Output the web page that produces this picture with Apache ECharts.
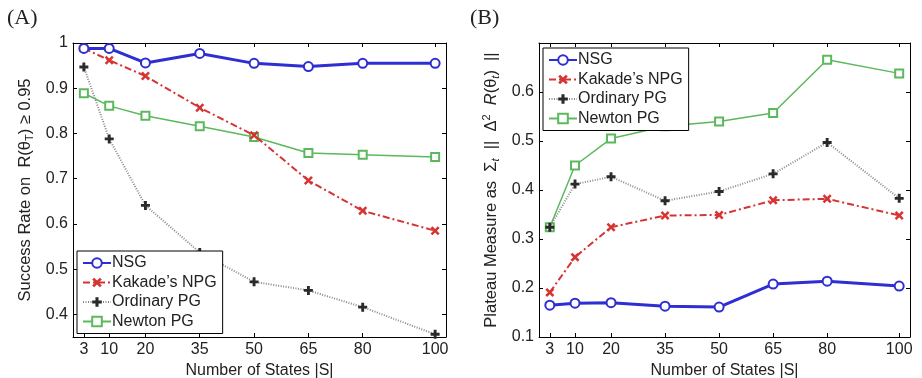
<!DOCTYPE html>
<html>
<head>
<meta charset="utf-8">
<script src="https://cdn.jsdelivr.net/npm/echarts@6/dist/echarts.min.js"></script>
<style>
  html, body { margin: 0; padding: 0; background: #fff; }
  #chart { width: 922px; height: 378px; }
</style>
</head>
<body>
<div id="chart"></div>
<script>
// number of states |S|
var states = [3, 10, 20, 35, 50, 65, 80, 100];

// (A) success rate
var successNSG = [0.988, 0.988, 0.956, 0.977, 0.955, 0.948, 0.955, 0.955];
var successKakade = [0.988, 0.962, 0.927, 0.857, 0.796, 0.696, 0.629, 0.585];
var successOrdinary = [0.947, 0.788, 0.641, 0.537, 0.472, 0.453, 0.416, 0.356];
var successNewton = [0.889, 0.861, 0.839, 0.816, 0.792, 0.757, 0.753, 0.748];

// (B) plateau measure
var plateauNSG = [0.165, 0.169, 0.170, 0.163, 0.161, 0.208, 0.214, 0.204];
var plateauKakade = [0.191, 0.263, 0.324, 0.348, 0.349, 0.379, 0.382, 0.348];
var plateauOrdinary = [0.324, 0.412, 0.427, 0.378, 0.397, 0.433, 0.497, 0.383];
var plateauNewton = [0.324, 0.450, 0.505, 0.530, 0.540, 0.557, 0.666, 0.638];

var ticksA = [0.4, 0.5, 0.6, 0.7, 0.8, 0.9, 1];
var ticksB = [0.1, 0.2, 0.3, 0.4, 0.5, 0.6];
var seriesNames = ["NSG", "Kakade\u2019s NPG", "Ordinary PG", "Newton PG"];

var FONT = "Liberation Sans";
var xSymbol = "path://M2,0 L5,3 L8,0 L10,2 L7,5 L10,8 L8,10 L5,7 L2,10 L0,8 L3,5 L0,2 Z";
var plusSymbol = "path://M3.4,0 H6.6 V3.4 H10 V6.6 H6.6 V10 H3.4 V6.6 H0 V3.4 H3.4 Z";

function zip(ys) {
  return states.map(function (s, i) { return [s, ys[i]]; });
}

function makeSeries(idx, vals) {
  var x = idx * 2, y = idx * 2;
  return [
    {
      name: seriesNames[0], type: "line", xAxisIndex: x, yAxisIndex: y, data: zip(vals[0]),
      symbol: "emptyCircle", symbolSize: 9, z: 5,
      lineStyle: { color: "#2e2ed2", width: 3 },
      itemStyle: { color: "#2e2ed2", borderWidth: 2.5 }
    },
    {
      name: seriesNames[1], type: "line", xAxisIndex: x, yAxisIndex: y, data: zip(vals[1]),
      symbol: xSymbol, symbolSize: 9, z: 4,
      lineStyle: { color: "#d63333", width: 2, type: [7, 3, 2, 3] },
      itemStyle: { color: "#d63333" }
    },
    {
      name: seriesNames[2], type: "line", xAxisIndex: x, yAxisIndex: y, data: zip(vals[2]),
      symbol: plusSymbol, symbolSize: 9, z: 3,
      lineStyle: { color: "#8a8a8a", width: 2, type: [1, 1.5] },
      itemStyle: { color: "#2a2a2a" }
    },
    {
      name: seriesNames[3], type: "line", xAxisIndex: x, yAxisIndex: y, data: zip(vals[3]),
      symbol: "emptyRect", symbolSize: 8, z: 2,
      lineStyle: { color: "#5cb85c", width: 1.5 },
      itemStyle: { color: "#5cb85c", borderWidth: 1.5 }
    }
  ];
}

function xAxes(gridIndex) {
  return [
    {
      type: "value", gridIndex: gridIndex, min: 0, max: 103,
      name: "Number of States |S|", nameLocation: "middle", nameGap: 23,
      nameTextStyle: { fontFamily: FONT, fontSize: 16, color: "#222" },
      axisLine: { show: true, onZero: false, lineStyle: { color: "#000", width: 1 } },
      axisTick: { show: true, inside: true, length: 4, customValues: states, lineStyle: { color: "#000" } },
      axisLabel: { customValues: states, fontFamily: FONT, fontSize: 16, color: "#222", margin: 5 },
      splitLine: { show: false }
    },
    {
      type: "value", gridIndex: gridIndex, position: "top", min: 0, max: 103,
      axisLine: { show: true, onZero: false, lineStyle: { color: "#000", width: 1 } },
      axisTick: { show: true, inside: true, length: 4, customValues: states, lineStyle: { color: "#000" } },
      axisLabel: { show: false },
      splitLine: { show: false }
    }
  ];
}

function yAxes(gridIndex, min, max, ticks, nameRich, nameText, gap) {
  return [
    {
      type: "value", gridIndex: gridIndex, min: min, max: max,
      name: nameText, nameLocation: "middle", nameGap: gap, nameRotate: 90,
      nameTextStyle: { fontFamily: FONT, fontSize: 16.5, color: "#222", rich: nameRich },
      axisLine: { show: true, onZero: false, lineStyle: { color: "#000", width: 1 } },
      axisTick: { show: true, inside: true, length: 4, customValues: ticks, lineStyle: { color: "#000" } },
      axisLabel: { customValues: ticks, fontFamily: FONT, fontSize: 16, color: "#222", margin: 5 },
      splitLine: { show: false }
    },
    {
      type: "value", gridIndex: gridIndex, position: "right", min: min, max: max,
      axisLine: { show: true, onZero: false, lineStyle: { color: "#000", width: 1 } },
      axisTick: { show: true, inside: true, length: 4, customValues: ticks, lineStyle: { color: "#000" } },
      axisLabel: { show: false },
      splitLine: { show: false }
    }
  ];
}

var richBase = {
  n: { fontFamily: FONT, fontSize: 16.5, color: "#222" },
  sub: { fontFamily: FONT, fontSize: 11, color: "#222", verticalAlign: "bottom", padding: [9, 0, 0, 0] },
  sup: { fontFamily: FONT, fontSize: 11, color: "#222", verticalAlign: "top", padding: [0, 0, 8, 0] },
  it: { fontFamily: FONT, fontSize: 16.5, color: "#222", fontStyle: "italic" },
  subit: { fontFamily: FONT, fontSize: 11, color: "#222", fontStyle: "italic", verticalAlign: "bottom", padding: [9, 0, 0, 0] }
};

var nameA = "{n|Success Rate on  R(\u03b8}{sub|T}{n|) \u2265 0.95}";
var nameB = "{n|Plateau Measure as  \u03a3}{subit|t}{n|  ||  \u0394}{sup|2}{n|  }{it|R}{n|(\u03b8}{subit|t}{n|)  ||}";

function legendAt(left, top) {
  return {
    left: left, top: top, orient: "vertical",
    data: seriesNames,
    itemWidth: 28, itemHeight: 12, itemGap: 3.5,
    backgroundColor: "#fff", borderColor: "#000", borderWidth: 1, borderRadius: 0,
    padding: [4, 6, 4, 5],
    textStyle: { fontFamily: FONT, fontSize: 16, color: "#222", padding: [0, 0, 0, -4] },
    inactiveColor: "#ccc",
    selectedMode: false
  };
}

var chart = echarts.init(document.getElementById("chart"), null, { renderer: "canvas" });
chart.setOption({
  animation: false,
  backgroundColor: "#fff",
  title: [
    { text: "(A)", left: 2, top: 2, textStyle: { fontFamily: "Liberation Serif", fontSize: 22, fontWeight: "normal", color: "#222" } },
    { text: "(B)", left: 465, top: 2, textStyle: { fontFamily: "Liberation Serif", fontSize: 22, fontWeight: "normal", color: "#222" } }
  ],
  grid: [
    { left: 73, top: 43, width: 373, height: 294, outerBoundsMode: "none" },
    { left: 539, top: 43, width: 371, height: 294, outerBoundsMode: "none" }
  ],
  legend: [legendAt(77, 251), legendAt(543, 48)],
  xAxis: xAxes(0).concat(xAxes(1)),
  yAxis: yAxes(0, 0.35, 1, ticksA, richBase, nameA, 38)
    .concat(yAxes(1, 0.1, 0.7, ticksB, richBase, nameB, 38)),
  series: makeSeries(0, [successNSG, successKakade, successOrdinary, successNewton])
    .concat(makeSeries(1, [plateauNSG, plateauKakade, plateauOrdinary, plateauNewton]))
});
</script>
</body>
</html>
